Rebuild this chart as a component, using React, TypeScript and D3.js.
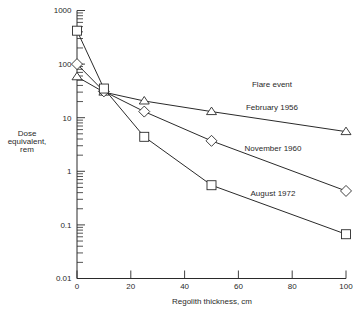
import React from "react";
import * as d3 from "d3";

const thickness = [0, 10, 25, 50, 100];
const feb1956 = [58, 30, 20.5, 13, 5.5];
const nov1960 = [100, 31, 13, 3.7, 0.43];
const aug1972 = [420, 35, 4.4, 0.55, 0.067];

const seriesNames = ["February 1956", "November 1960", "August 1972"];
const xTicks = [0, 20, 40, 60, 80, 100];
const yTicks = [1000, 100, 10, 1, 0.1, 0.01];
const yTickLabels = ["1000", "100", "10", "1", "0.1", "0.01"];

const W = 362;
const H = 315;
const FONT = "Liberation Sans, Arial, Helvetica, sans-serif";
const INK = "#2a2a2a";

export default function App() {
  const x = d3.scaleLinear().domain([0, 100]).range([77, 346]);
  const y = d3.scaleLog().domain([0.01, 1000]).range([278.5, 10.5]);

  const minor: number[] = [];
  for (let e = -2; e < 3; e++) {
    for (let m = 2; m <= 9; m++) minor.push(m * Math.pow(10, e));
  }

  const line = d3
    .line<number>()
    .x((_, i) => x(thickness[i]))
    .y((v) => y(v));

  const series = [
    { name: seriesNames[0], values: feb1956, shape: "tri" },
    { name: seriesNames[1], values: nov1960, shape: "dia" },
    { name: seriesNames[2], values: aug1972, shape: "sq" },
  ];

  const marker = (shape: string, cx: number, cy: number, key: string) => {
    if (shape === "sq") {
      return <rect key={key} x={cx - 4.5} y={cy - 4.5} width={9} height={9} fill="white" stroke={INK} strokeWidth={0.9} />;
    }
    if (shape === "dia") {
      const r = 5.5;
      return (
        <path key={key} d={`M${cx},${cy - r}L${cx + r},${cy}L${cx},${cy + r}L${cx - r},${cy}Z`} fill="white" stroke={INK} strokeWidth={0.9} />
      );
    }
    const h = 7.5;
    const w = 5;
    return (
      <path key={key} d={`M${cx},${cy - h * 0.6}L${cx + w},${cy + h * 0.4}L${cx - w},${cy + h * 0.4}Z`} fill="white" stroke={INK} strokeWidth={0.9} />
    );
  };

  const labelPos = [
    { x: 272, y: 107 },
    { x: 273, y: 148 },
    { x: 273, y: 193.5 },
  ];

  return (
    <svg width={W} height={H} style={{ position: "absolute", left: 0, top: 0, background: "white" }} fontFamily={FONT}>
      {/* axes */}
      <line x1={x(0)} x2={x(0)} y1={y(1000)} y2={y(0.01)} stroke={INK} strokeWidth={1} />
      <line x1={x(0)} x2={x(100)} y1={y(0.01)} y2={y(0.01)} stroke={INK} strokeWidth={1} />
      {yTicks.map((t, i) => (
        <g key={"yt" + i}>
          <line x1={x(0)} x2={x(0) + 8} y1={y(t)} y2={y(t)} stroke={INK} strokeWidth={0.9} />
          <text x={71.5} y={y(t)} dy="0.35em" textAnchor="end" fontSize={8} fill={INK}>
            {yTickLabels[i]}
          </text>
        </g>
      ))}
      {minor.map((t, i) => (
        <line key={"ym" + i} x1={x(0)} x2={x(0) + 6} y1={y(t)} y2={y(t)} stroke={INK} strokeWidth={0.8} />
      ))}
      {xTicks.map((t, i) => (
        <g key={"xt" + i}>
          <line x1={x(t)} x2={x(t)} y1={y(0.01)} y2={y(0.01) - 8} stroke={INK} strokeWidth={0.9} />
          <text x={x(t)} y={286} dy="0.35em" textAnchor="middle" fontSize={8} fill={INK}>
            {String(t)}
          </text>
        </g>
      ))}
      <text x={212} y={301.5} dy="0.35em" textAnchor="middle" fontSize={8} fill={INK}>
        Regolith thickness, cm
      </text>
      <text textAnchor="middle" fontSize={8} fill={INK}>
        <tspan x={27} y={133} dy="0.35em">Dose</tspan>
        <tspan x={27} y={141.5} dy="0.35em">equivalent,</tspan>
        <tspan x={27} y={149.5} dy="0.35em">rem</tspan>
      </text>

      {/* lines */}
      {series.map((s) => (
        <path key={"l" + s.name} d={line(s.values) || ""} fill="none" stroke={INK} strokeWidth={1} />
      ))}
      {series.map((s) => s.values.map((v, i) => marker(s.shape, x(thickness[i]), y(v), s.name + i)))}

      {/* labels */}
      <text x={272} y={84} dy="0.35em" textAnchor="middle" fontSize={8} fill={INK}>
        Flare event
      </text>
      {series.map((s, i) => (
        <text key={"lab" + i} x={labelPos[i].x} y={labelPos[i].y} dy="0.35em" textAnchor="middle" fontSize={8} fill={INK}>
          {s.name}
        </text>
      ))}
    </svg>
  );
}
